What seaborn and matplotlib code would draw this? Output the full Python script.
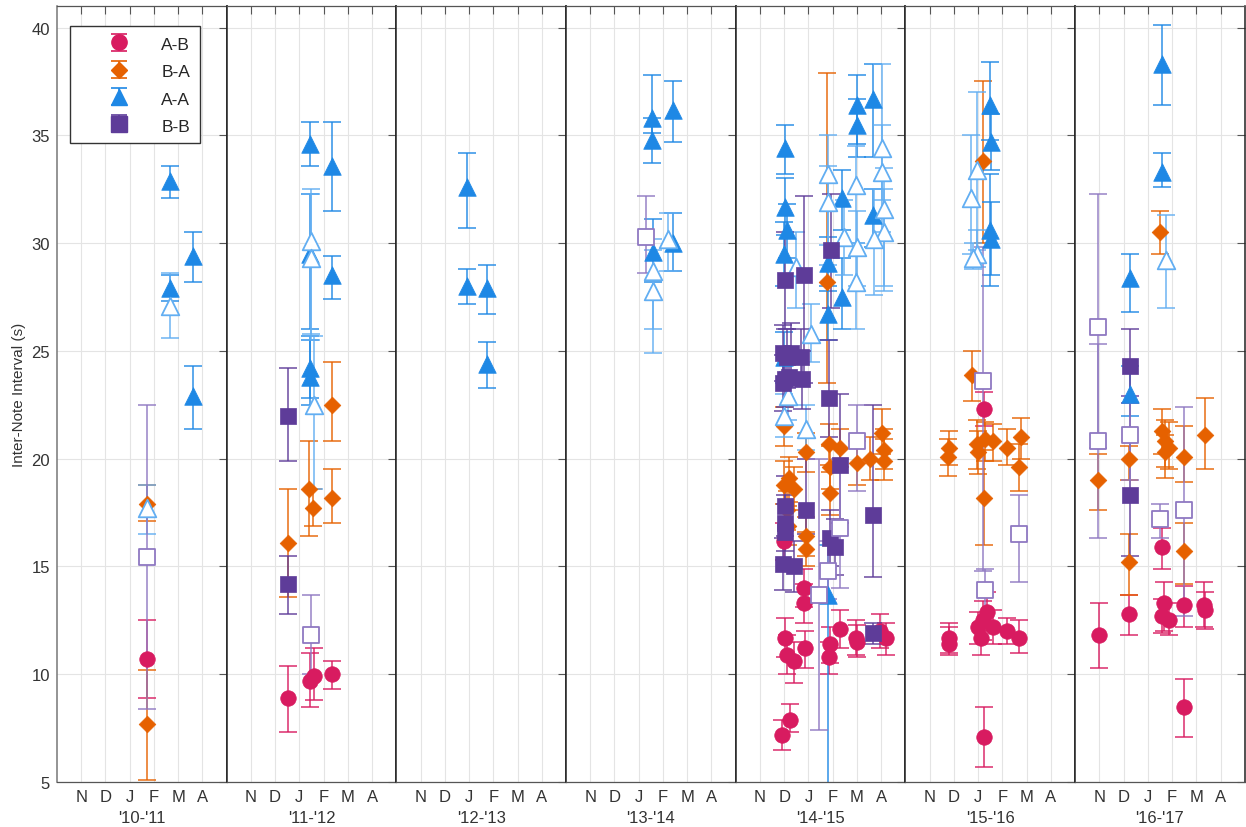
#!/usr/bin/env python3

import pandas as pd
import seaborn as sns
import matplotlib.pyplot as plt

seasons = ["'10-'11", "'11-'12", "'12-'13", "'13-'14", "'14-'15", "'15-'16", "'16-'17"]
month_labels = ["N", "D", "J", "F", "M", "A"]

# rows: (season index, month position (Oct=0), mean, lower, upper, open marker)
ab_rows = [
    (0, 3.7, 10.7, 8.9, 12.5, False),
    (1, 2.55, 8.9, 7.3, 10.4, False), (1, 3.45, 9.7, 8.5, 11.0, False),
    (1, 3.6, 9.9, 8.8, 11.2, False), (1, 4.35, 10.0, 9.3, 10.6, False),
    (4, 2.0, 16.2, 15.3, 17.0, False), (4, 2.8, 14.0, 13.1, 14.9, False),
    (4, 2.8, 13.3, 12.4, 14.2, False), (4, 2.05, 11.7, 10.8, 12.6, False),
    (4, 2.12, 10.9, 10.0, 11.8, False), (4, 2.4, 10.6, 9.6, 11.5, False),
    (4, 2.85, 11.2, 10.3, 12.0, False), (4, 2.26, 7.9, 7.3, 8.6, False),
    (4, 1.92, 7.2, 6.5, 7.9, False), (4, 3.84, 10.8, 10.0, 11.5, False),
    (4, 3.9, 11.4, 10.5, 12.2, False), (4, 4.3, 12.1, 11.2, 13.0, False),
    (4, 4.95, 11.7, 10.9, 12.5, False), (4, 5.0, 11.5, 10.8, 12.3, False),
    (4, 5.95, 12.0, 11.2, 12.8, False), (4, 6.2, 11.7, 10.9, 12.4, False),
    (5, 1.78, 11.7, 11.0, 12.4, False), (5, 1.8, 11.4, 10.9, 12.2, False),
    (5, 3.0, 12.2, 11.4, 12.9, False), (5, 3.2, 12.5, 11.6, 13.4, False),
    (5, 3.35, 12.9, 12.0, 13.8, False), (5, 3.6, 12.2, 11.4, 13.0, False),
    (5, 3.1, 11.7, 10.9, 12.4, False), (5, 4.2, 12.0, 11.4, 12.6, False),
    (5, 4.7, 11.7, 11.0, 12.5, False), (5, 3.25, 22.3, 21.5, 23.1, False),
    (5, 3.25, 7.1, 5.7, 8.5, False),
    (6, 0.99, 11.8, 10.3, 13.3, False), (6, 2.22, 12.8, 11.8, 13.7, False),
    (6, 3.59, 15.9, 14.9, 16.8, False), (6, 3.66, 13.3, 12.0, 14.3, False),
    (6, 3.59, 12.7, 11.9, 13.5, False), (6, 3.86, 12.5, 11.8, 13.3, False),
    (6, 4.48, 13.2, 12.2, 14.1, False), (6, 5.3, 13.2, 12.2, 14.3, False),
    (6, 5.37, 13.0, 12.1, 13.8, False), (6, 4.48, 8.5, 7.1, 9.8, False),
]

ba_rows = [
    (0, 3.7, 17.9, 17.1, 18.8, False), (0, 3.7, 7.7, 5.1, 10.2, False),
    (1, 2.55, 16.1, 13.6, 18.6, False), (1, 3.4, 18.6, 16.4, 20.8, False),
    (1, 3.55, 17.7, 16.9, 18.6, False), (1, 4.35, 22.5, 20.8, 24.5, False),
    (1, 4.35, 18.2, 17.0, 19.5, False),
    (4, 1.99, 21.5, 20.6, 22.4, False), (4, 1.99, 18.8, 17.9, 19.9, False),
    (4, 2.19, 19.1, 18.0, 20.1, False), (4, 2.4, 18.6, 17.6, 19.6, False),
    (4, 2.1, 17.6, 16.7, 18.5, False), (4, 2.15, 16.9, 16.0, 17.8, False),
    (4, 2.88, 20.3, 19.4, 21.2, False), (4, 2.88, 16.4, 15.5, 17.3, False),
    (4, 2.88, 15.8, 15.0, 16.6, False), (4, 3.84, 20.7, 19.7, 21.6, False),
    (4, 3.9, 19.6, 18.6, 20.6, False), (4, 4.3, 20.5, 19.6, 21.4, False),
    (4, 3.9, 18.4, 17.4, 19.4, False), (4, 5.0, 19.8, 18.8, 20.8, False),
    (4, 5.55, 20.0, 19.0, 21.0, False), (4, 6.03, 21.2, 20.2, 22.3, False),
    (4, 6.1, 20.4, 19.5, 21.4, False), (4, 6.1, 19.9, 19.0, 20.9, False),
    (4, 3.77, 28.2, 23.5, 37.9, False),
    (5, 1.78, 20.5, 19.7, 21.3, False), (5, 1.75, 20.1, 19.2, 20.9, False),
    (5, 2.95, 20.7, 19.5, 21.8, False), (5, 3.3, 20.9, 19.9, 21.7, False),
    (5, 3.6, 20.8, 19.9, 21.6, False), (5, 3.0, 20.3, 19.3, 21.3, False),
    (5, 4.2, 20.5, 19.7, 21.4, False), (5, 4.75, 21.0, 20.0, 21.9, False),
    (5, 4.7, 19.6, 18.5, 20.7, False), (5, 3.25, 18.2, 16.0, 20.4, False),
    (5, 2.74, 23.9, 22.7, 25.0, False), (5, 3.2, 33.8, 30.0, 37.5, False),
    (6, 0.96, 19.0, 17.6, 20.2, False), (6, 2.22, 20.0, 19.0, 20.6, False),
    (6, 2.22, 15.2, 13.7, 16.5, False), (6, 3.59, 21.3, 20.2, 22.3, False),
    (6, 3.73, 20.8, 19.6, 21.8, False), (6, 3.73, 20.3, 19.1, 21.1, False),
    (6, 3.86, 20.5, 19.5, 21.7, False), (6, 4.48, 20.1, 18.9, 21.5, False),
    (6, 4.48, 15.7, 14.2, 17.0, False), (6, 5.35, 21.1, 19.5, 22.8, False),
    (6, 3.5, 30.5, 29.5, 31.5, False),
]

aa_rows = [
    (0, 4.65, 32.9, 32.1, 33.6, False), (0, 4.65, 27.9, 27.3, 28.5, False),
    (0, 4.65, 27.1, 25.6, 28.6, True), (0, 5.6, 29.4, 28.2, 30.5, False),
    (0, 5.6, 22.9, 21.4, 24.3, False), (0, 3.7, 17.7, 16.5, 18.8, True),
    (1, 3.45, 34.6, 33.6, 35.6, False), (1, 3.45, 29.5, 26.0, 32.3, False),
    (1, 3.5, 30.1, 25.5, 32.5, True), (1, 3.5, 29.3, 25.8, 32.3, True),
    (1, 3.45, 24.2, 22.8, 25.7, False), (1, 3.45, 23.8, 22.5, 25.5, False),
    (1, 3.6, 22.5, 18.6, 25.7, True), (1, 4.35, 33.6, 31.5, 35.6, False),
    (1, 4.35, 28.5, 27.4, 29.4, False),
    (2, 2.92, 32.6, 30.7, 34.2, False), (2, 2.92, 28.0, 27.2, 28.8, False),
    (2, 3.75, 27.9, 26.7, 29.0, False), (2, 3.75, 24.4, 23.3, 25.4, False),
    (3, 3.55, 35.8, 35.1, 37.8, False), (3, 3.55, 34.8, 33.7, 35.8, False),
    (3, 3.6, 29.6, 28.2, 31.1, False), (3, 3.6, 28.7, 26.0, 30.2, True),
    (3, 3.6, 27.8, 24.9, 29.7, True), (3, 4.4, 36.2, 34.7, 37.5, False),
    (3, 4.4, 30.0, 28.7, 31.4, False), (3, 4.2, 30.2, 28.7, 31.4, True),
    (4, 2.05, 34.4, 33.2, 35.5, False), (4, 2.05, 31.7, 30.4, 33.0, False),
    (4, 2.1, 30.6, 29.3, 31.8, False), (4, 2.0, 29.5, 28.0, 31.0, False),
    (4, 2.0, 24.7, 23.5, 25.9, False), (4, 2.5, 28.9, 27.0, 30.5, True),
    (4, 3.1, 25.8, 24.5, 27.2, True), (4, 2.0, 22.0, 21.0, 23.0, True),
    (4, 2.15, 22.9, 21.8, 24.0, True), (4, 2.9, 21.4, 20.4, 22.5, True),
    (4, 3.8, 29.1, 27.8, 30.3, False), (4, 3.8, 26.7, 25.5, 28.0, False),
    (4, 4.4, 27.5, 26.0, 29.3, False), (4, 4.4, 32.1, 30.6, 33.4, False),
    (4, 5.0, 36.4, 34.0, 37.8, False), (4, 5.0, 35.5, 34.6, 36.7, False),
    (4, 5.65, 36.7, 34.0, 38.3, False), (4, 5.65, 31.3, 29.8, 32.5, False),
    (4, 3.8, 13.7, 3.0, 16.0, False),
    (4, 3.8, 33.2, 29.9, 35.0, True), (4, 3.8, 31.9, 29.0, 33.6, True),
    (4, 4.95, 32.7, 30.0, 34.5, True), (4, 4.95, 28.2, 26.0, 30.0, True),
    (4, 6.05, 34.4, 32.0, 38.3, True), (4, 6.05, 33.3, 30.5, 35.5, True),
    (4, 6.1, 31.6, 28.0, 33.5, True), (4, 6.1, 30.5, 27.8, 32.5, True),
    (4, 4.45, 30.3, 28.5, 32.0, True), (4, 5.0, 29.8, 28.0, 31.5, True),
    (4, 5.7, 30.2, 27.6, 32.5, True),
    (5, 3.5, 36.4, 34.8, 38.4, False), (5, 3.55, 34.7, 33.4, 36.0, False),
    (5, 3.5, 30.6, 28.0, 33.2, False), (5, 3.55, 30.2, 28.5, 31.9, False),
    (5, 2.95, 33.4, 29.7, 37.0, True), (5, 2.7, 32.1, 29.5, 35.0, True),
    (5, 2.95, 29.5, 28.9, 30.6, True), (5, 2.8, 29.3, 28.8, 30.0, True),
    (6, 3.6, 38.3, 36.4, 40.1, False), (6, 3.6, 33.3, 32.6, 34.2, False),
    (6, 3.75, 29.2, 27.0, 31.3, True), (6, 2.26, 28.4, 26.8, 29.5, False),
    (6, 2.26, 23.0, 22.0, 24.3, False),
]

bb_rows = [
    (0, 3.7, 15.45, 8.4, 22.5, True),
    (1, 2.55, 22.0, 19.9, 24.2, False), (1, 2.55, 14.2, 12.8, 15.5, False),
    (1, 3.5, 11.8, 10.0, 13.7, True),
    (3, 3.3, 30.3, 28.6, 32.2, True),
    (4, 2.05, 28.3, 26.0, 30.5, False), (4, 2.8, 28.5, 23.5, 32.2, False),
    (4, 3.95, 29.7, 27.0, 32.3, False), (4, 1.95, 24.9, 23.6, 26.2, False),
    (4, 2.1, 24.7, 23.3, 26.0, False), (4, 2.3, 24.9, 23.6, 26.3, False),
    (4, 2.2, 23.8, 22.5, 25.1, False), (4, 1.95, 23.5, 22.2, 24.8, False),
    (4, 2.05, 23.7, 22.4, 25.0, False), (4, 2.7, 24.7, 23.4, 26.0, False),
    (4, 2.75, 23.7, 22.3, 25.0, False), (4, 3.85, 22.8, 21.0, 25.5, False),
    (4, 2.05, 17.8, 16.4, 19.2, False), (4, 2.05, 17.0, 15.7, 18.3, False),
    (4, 2.05, 16.6, 15.3, 17.9, False), (4, 1.95, 15.1, 13.9, 16.3, False),
    (4, 2.4, 15.0, 13.8, 16.2, False), (4, 2.88, 17.6, 16.5, 20.0, False),
    (4, 3.9, 16.3, 15.0, 17.6, False), (4, 4.1, 15.9, 14.6, 17.2, False),
    (4, 4.3, 19.7, 17.0, 23.0, False), (4, 5.65, 17.4, 14.5, 22.5, False),
    (4, 5.65, 11.9, 11.4, 12.4, False),
    (4, 4.3, 16.8, 14.0, 20.0, True), (4, 5.0, 20.8, 18.5, 22.5, True),
    (4, 3.8, 14.8, 13.5, 16.2, True), (4, 3.45, 13.7, 7.4, 20.0, True),
    (5, 3.2, 23.6, 14.8, 29.8, True), (5, 3.3, 13.9, 12.3, 14.9, True),
    (5, 4.7, 16.5, 14.3, 18.3, True),
    (6, 0.96, 26.1, 20.5, 32.3, True), (6, 0.96, 20.8, 16.3, 25.3, True),
    (6, 2.26, 24.3, 22.6, 26.0, False), (6, 2.26, 18.3, 15.5, 22.9, False),
    (6, 2.26, 21.1, 19.0, 22.9, True), (6, 3.5, 17.2, 16.3, 17.9, True),
    (6, 4.48, 17.6, 12.7, 22.4, True),
]

series = {"A-B": ab_rows, "B-A": ba_rows, "A-A": aa_rows, "B-B": bb_rows}
# marker, colour, light colour, scatter size
styles = {
    "A-B": ("o", "#D81B60", "#E4508A", 125),
    "B-A": ("D", "#E66100", "#EE8A45", 72),
    "A-A": ("^", "#1E88E5", "#62AEF2", 160),
    "B-B": ("s", "#5E3C99", "#8F78C2", 125),
}


def main():
    sns.set_style("white")
    plt.rcParams["font.family"] = ["Liberation Sans", "DejaVu Sans"]

    fig, axes = plt.subplots(
        1, 7, figsize=(12.46, 8.28), dpi=100, sharey=True,
        gridspec_kw=dict(wspace=0, left=0.0457, right=0.999, top=0.9915, bottom=0.0543),
    )

    for name, rows in series.items():
        df = pd.DataFrame(rows, columns=["season", "month", "val", "lo", "hi", "open"])
        marker, col, light, size = styles[name]
        for k, ax in enumerate(axes):
            sub = df[df["season"] == k]
            for is_open, g in sub.groupby("open"):
                ecol = light if is_open else col
                ax.errorbar(g["month"], g["val"],
                            yerr=[g["val"] - g["lo"], g["hi"] - g["val"]],
                            fmt="none", ecolor=ecol, elinewidth=1.2,
                            capsize=6.5, capthick=1.2, alpha=0.85, zorder=2)
                if is_open:
                    sns.scatterplot(data=g, x="month", y="val", ax=ax, marker=marker,
                                    s=size, color="white", edgecolor=light,
                                    linewidth=1.3, zorder=3, legend=False)
                else:
                    sns.scatterplot(data=g, x="month", y="val", ax=ax, marker=marker,
                                    s=size, color=col, edgecolor=col,
                                    linewidth=0.5, zorder=3, legend=False)

    for k, ax in enumerate(axes):
        ax.set_xlim(0, 7)
        ax.set_ylim(5, 41)
        ax.set_xticks(range(1, 7))
        ax.set_xticklabels(month_labels)
        ax.set_yticks(range(5, 41, 5))
        ax.grid(True, color="#e4e4e4", linewidth=0.8)
        ax.set_axisbelow(True)
        ax.tick_params(direction="in", length=6, width=0.8, top=True, right=True,
                       color="#555555", labelsize=12, labelcolor="#333333", pad=5)
        ax.set_xlabel(seasons[k], fontsize=12, color="#333333", labelpad=4)
        ax.set_ylabel("")
        for side in ["left", "right"]:
            ax.spines[side].set_color("#222222")
            ax.spines[side].set_linewidth(1.1)
        for side in ["top", "bottom"]:
            ax.spines[side].set_color("#555555")
            ax.spines[side].set_linewidth(0.9)
    axes[0].spines["left"].set_color("#777777")
    axes[0].set_ylabel("Inter-Note Interval (s)", fontsize=11, color="#333333", labelpad=4)

    handles = []
    labels = []
    for name, (marker, col, light, size) in styles.items():
        ms = 11 if marker != "D" else 8.5
        h = axes[0].errorbar([float("nan")], [float("nan")], yerr=[[1.0], [1.0]],
                             fmt=marker, color=col, ecolor=col, markersize=ms,
                             elinewidth=1.2, capsize=6, capthick=1.2)
        handles.append(h)
        labels.append(name)
    leg = axes[0].legend(handles, labels, loc="upper left",
                         bbox_to_anchor=(70 / 1246, 1 - 27 / 828),
                         bbox_transform=fig.transFigure, borderaxespad=0,
                         fancybox=False, framealpha=1, edgecolor="#333333",
                         fontsize=12.5, handlelength=4.6, handletextpad=0.1,
                         borderpad=0.55, labelspacing=0.6, handleheight=1.0)
    leg.get_frame().set_linewidth(1.0)

    plt.savefig("out.png", dpi=100)


if __name__ == '__main__':
    main()
